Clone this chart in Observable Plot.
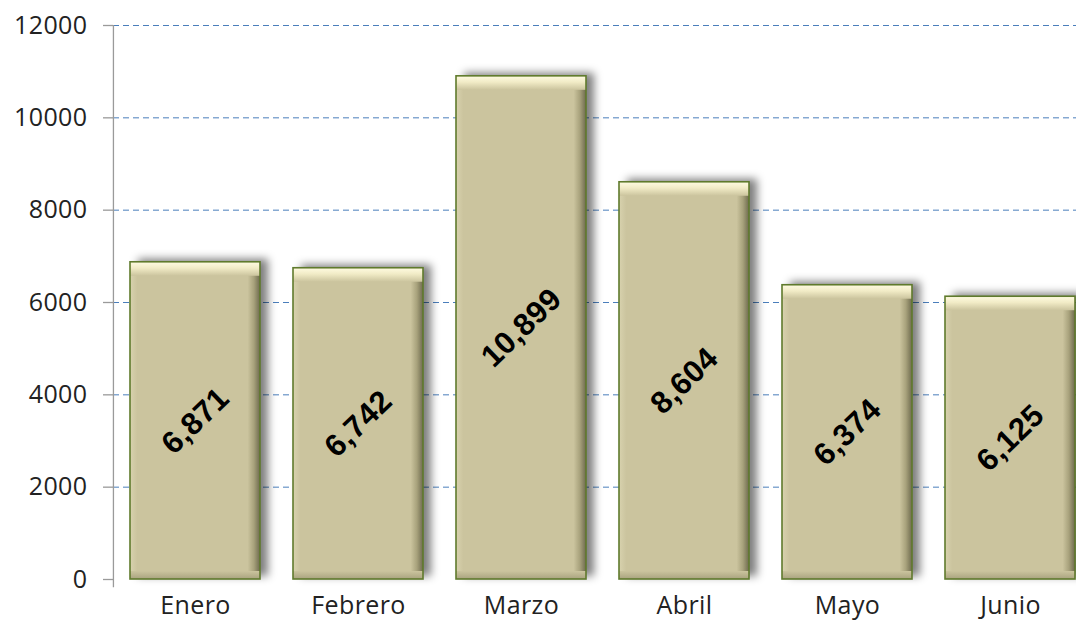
<!DOCTYPE html>
<html>
<head>
<meta charset="utf-8">
<script src="https://cdn.jsdelivr.net/npm/d3@7"></script>
<script src="https://cdn.jsdelivr.net/npm/@observablehq/plot@0.6"></script>
<style>
  html, body { margin: 0; padding: 0; background: #fff; }
  #chart { width: 1076px; height: 620px; overflow: hidden; }
</style>
</head>
<body>
<div id="chart"></div>
<script>
const months = ["Enero", "Febrero", "Marzo", "Abril", "Mayo", "Junio"];
const values = [6871, 6742, 10899, 8604, 6374, 6125];
const yTicks = [0, 2000, 4000, 6000, 8000, 10000, 12000];

const data = months.map((m, i) => ({month: m, value: values[i]}));
const gridTicks = yTicks.filter(t => t > 0);

const W = 1076, H = 620;
const xRange = [113, 1093];
const step = (xRange[1] - xRange[0]) / months.length;
const bw = step * 0.8;

const barBase = {x: "month", y: "value"};

const chart = Plot.plot({
  width: W,
  height: H,
  marginLeft: 113,
  marginTop: 25,
  marginBottom: 41,
  marginRight: 0,
  style: {fontFamily: "'Open Sans', sans-serif", fontSize: "25px", color: "#222", background: "#fff", letterSpacing: "0.4px"},
  x: {domain: months, range: xRange, paddingInner: 0.2, paddingOuter: 0.1, label: null, tickSize: 0, tickPadding: 17},
  y: {domain: [0, 12000], ticks: yTicks, tickFormat: d => String(d), label: null, tickSize: 10, tickPadding: 16},
  marks: [
    Plot.ruleY(gridTicks, {stroke: "#4A7EBB", strokeWidth: 1, strokeDasharray: "6,4"}),
    Plot.barY(data, {...barBase, fill: "#000", fillOpacity: 0.5, dx: 8, dy: -3, ariaDescription: "shadow"}),
    Plot.barY(data, {...barBase, fill: "#CBC49E"}),
    Plot.barY(data, {...barBase, fill: "url(#gLeft)", insetRight: bw - 8}),
    Plot.barY(data, {...barBase, fill: "url(#gRight)", insetLeft: bw - 13}),
    Plot.barY(data, {x: "month", y1: "value", y2: "value", fill: "url(#gTop)", insetBottom: -14}),
    Plot.barY(data, {x: "month", y1: d => 0, y2: d => 0, fill: "url(#gBottom)", insetTop: -8}),
    Plot.barY(data, {...barBase, fill: "none", stroke: "#5F7A2C", strokeWidth: 1.6}),
    Plot.text(data, {x: "month", y: d => d.value / 2, text: d => d3.format(",")(d.value),
      rotate: -44, fontSize: 31, fontWeight: "bold", fill: "#000",
      fontFamily: "'Liberation Sans', Arial, sans-serif"}),
    Plot.ruleX(["Enero"], {x: d => d, y1: d => -180, y2: d => 12000, dx: -(step / 2) - 0.4, stroke: "#9A9A9A", strokeWidth: 1.3})
  ]
});

const NS = "http://www.w3.org/2000/svg";
const defs = document.createElementNS(NS, "defs");
defs.innerHTML = `
  <linearGradient id="gTop" x1="0" y1="0" x2="0" y2="1">
    <stop offset="0" stop-color="#FFFBE2"/>
    <stop offset="0.45" stop-color="#F1EBC6"/>
    <stop offset="1" stop-color="#CBC49E"/>
  </linearGradient>
  <linearGradient id="gRight" x1="0" y1="0" x2="1" y2="0">
    <stop offset="0" stop-color="#CBC49E"/>
    <stop offset="0.5" stop-color="#A8A27C"/>
    <stop offset="1" stop-color="#6E6A4E"/>
  </linearGradient>
  <linearGradient id="gLeft" x1="0" y1="0" x2="1" y2="0">
    <stop offset="0" stop-color="#D8D2AE"/>
    <stop offset="1" stop-color="#CBC49E"/>
  </linearGradient>
  <linearGradient id="gBottom" x1="0" y1="0" x2="0" y2="1">
    <stop offset="0" stop-color="#CBC49E"/>
    <stop offset="1" stop-color="#A9A37F"/>
  </linearGradient>
  <filter id="blur" x="-20%" y="-20%" width="140%" height="140%">
    <feGaussianBlur stdDeviation="4"/>
  </filter>`;
chart.insertBefore(defs, chart.firstChild);

const sh = chart.querySelector('g[aria-description="shadow"]');
if (sh) sh.setAttribute("filter", "url(#blur)");

chart.querySelectorAll('[aria-label^="y-axis"] line, [aria-label^="y-axis"] path').forEach(el => {
  el.setAttribute("stroke", "#9A9A9A");
  el.setAttribute("stroke-width", "1.3");
});

document.getElementById("chart").appendChild(chart);
</script>
</body>
</html>
